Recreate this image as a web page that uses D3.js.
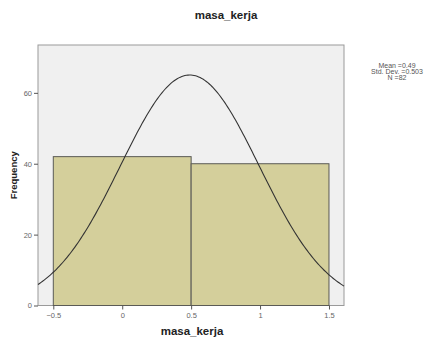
<!DOCTYPE html>
<html>
<head>
<meta charset="utf-8">
<script src="https://cdn.jsdelivr.net/npm/d3@7"></script>
<style>
  body { margin: 0; background: #fff; }
  text { font-family: "Liberation Sans", Arial, sans-serif; }
</style>
</head>
<body>
<div id="chart"></div>
<script>
// histogram bins (bin edges) and counts
const binStarts = [-0.5, 0.5];
const binEnds = [0.5, 1.5];
const counts = [42, 40];
const xTicks = [-0.5, 0, 0.5, 1, 1.5];
const yTicks = [0, 20, 40, 60];
const statsLines = ["Mean =0.49", "Std. Dev. =0.503", "N =82"];
const mean = 0.49, sd = 0.503, n = 82;

const width = 428, height = 341;
const margin = {top: 45, right: 84, bottom: 35, left: 38};

const svg = d3.select("#chart").append("svg")
    .attr("width", width)
    .attr("height", height);

const x = d3.scaleLinear()
    .domain([-0.611, 1.609])
    .range([margin.left, width - margin.right]);
const y = d3.scaleLinear()
    .domain([0, 73.5])
    .range([height - margin.bottom - 0.5, margin.top]);

// plot background
svg.append("rect")
    .attr("x", margin.left)
    .attr("y", margin.top)
    .attr("width", x.range()[1] - x.range()[0])
    .attr("height", y.range()[0] - y.range()[1])
    .attr("fill", "#f0f0f0")
    .attr("stroke", "#9a9a9a")
    .attr("stroke-width", 1);

// bars
svg.selectAll(".bar")
    .data(counts)
    .enter().append("rect")
    .attr("class", "bar")
    .attr("x", (d, i) => x(binStarts[i]))
    .attr("width", (d, i) => x(binEnds[i]) - x(binStarts[i]))
    .attr("y", d => y(d))
    .attr("height", d => y(0) - y(d))
    .attr("fill", "#d4cf9b")
    .attr("stroke", "#5a5a55")
    .attr("stroke-width", 1);

// normal curve scaled to counts (bin width 1)
const pdf = v => n * 1 / (sd * Math.sqrt(2 * Math.PI)) * Math.exp(-0.5 * Math.pow((v - mean) / sd, 2));
const curvePts = d3.range(0, 201).map(i => {
  const v = x.domain()[0] + (x.domain()[1] - x.domain()[0]) * i / 200;
  return [v, pdf(v)];
});
svg.append("path")
    .datum(curvePts)
    .attr("fill", "none")
    .attr("stroke", "#333")
    .attr("stroke-width", 1.1)
    .attr("d", d3.line().x(d => x(d[0])).y(d => y(d[1])));

// axes
const xAxis = svg.append("g")
    .attr("transform", "translate(0," + y(0) + ")")
    .call(d3.axisBottom(x).tickValues(xTicks).tickSize(4).tickSizeOuter(0)
      .tickFormat(d => d === 0 ? "0" : (Number.isInteger(d) ? d : d3.format(".1f")(d))));
xAxis.select(".domain").remove();
xAxis.selectAll("line").attr("stroke", "#555");
xAxis.selectAll("text").attr("fill", "#666").style("font-size", "7.5px");

const yAxis = svg.append("g")
    .attr("transform", "translate(" + margin.left + ",0)")
    .call(d3.axisLeft(y).tickValues(yTicks).tickSize(4).tickPadding(2));
yAxis.select(".domain").remove();
yAxis.selectAll("line").attr("stroke", "#555");
yAxis.selectAll("text").attr("fill", "#666").style("font-size", "7.5px");

// titles
svg.append("text")
    .attr("x", 226).attr("y", 19)
    .attr("text-anchor", "middle")
    .style("font-size", "11.5px").style("font-weight", "bold")
    .attr("fill", "#222")
    .text("masa_kerja");
svg.append("text")
    .attr("x", 192).attr("y", 335)
    .attr("text-anchor", "middle")
    .style("font-size", "11.5px").style("font-weight", "bold")
    .attr("fill", "#222")
    .text("masa_kerja");
svg.append("text")
    .attr("transform", "translate(17," + ((y.range()[0] + y.range()[1]) / 2) + ") rotate(-90)")
    .attr("text-anchor", "middle")
    .style("font-size", "9.5px").style("font-weight", "bold")
    .attr("fill", "#222")
    .text("Frequency");

// stats legend
svg.append("g").selectAll("text")
    .data(statsLines)
    .enter().append("text")
    .attr("x", 397)
    .attr("y", (d, i) => 68 + i * 5.8)
    .attr("text-anchor", "middle")
    .style("font-size", "7px")
    .attr("fill", "#555")
    .text(d => d);
</script>
</body>
</html>
